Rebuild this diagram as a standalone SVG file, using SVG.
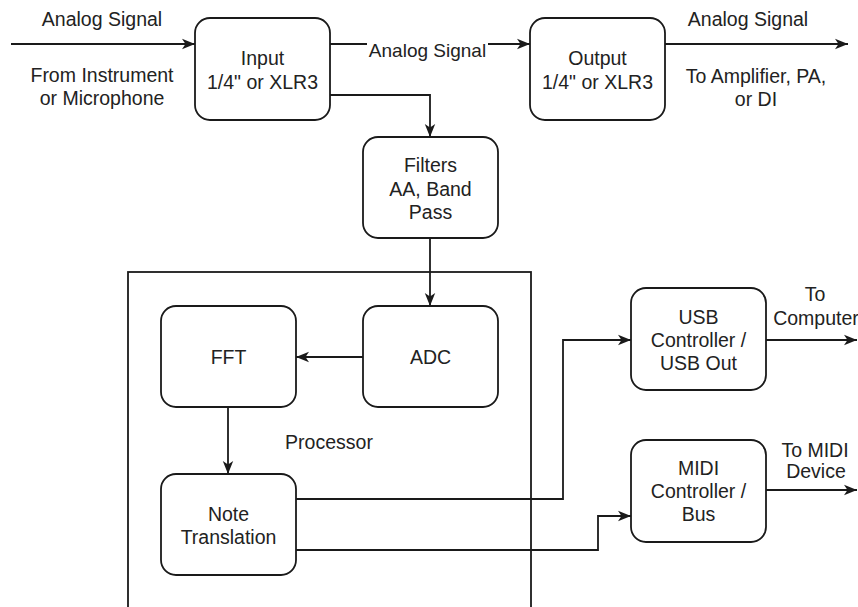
<svg xmlns="http://www.w3.org/2000/svg" width="858" height="607" viewBox="0 0 858 607">
  <style>
    .box { fill: #ffffff; stroke: #1a1a1a; stroke-width: 1.8; }
    .frame { fill: none; stroke: #1a1a1a; stroke-width: 1.8; }
    .wire { fill: none; stroke: #1a1a1a; stroke-width: 1.8; marker-end: url(#arrow); }
    text { font-family: "Liberation Sans", Arial, sans-serif; font-size: 19.5px; fill: #222222; text-anchor: middle; }
    .lbl { font-size: 19px; }
  </style>
  <defs>
    <marker id="arrow" markerUnits="userSpaceOnUse" markerWidth="14" markerHeight="12" viewBox="0 0 14 12" refX="13" refY="6" orient="auto">
      <path d="M0,0.8 L13,6 L0,11.2 L3.5,6 Z" fill="#1a1a1a"/>
    </marker>
  </defs>

  <!-- processor enclosure -->
  <g id="processor">
    <rect class="frame" x="128" y="272" width="403" height="400"/>
    <text x="329" y="449">Processor</text>
  </g>

  <!-- connectors -->
  <g id="connectors">
    <path class="wire" d="M11,44 H195"/>
    <path class="wire" d="M330,44 H530"/>
    <path class="wire" d="M665,44 H848"/>
    <path class="wire" d="M330,95 H430 V137"/>
    <path class="wire" d="M430,238 V306"/>
    <path class="wire" d="M363,357 H296"/>
    <path class="wire" d="M228,407 V474"/>
    <path class="wire" d="M296,499 H563 V340 H631"/>
    <path class="wire" d="M296,550 H598 V516 H631"/>
    <path class="wire" d="M766,340 H857"/>
    <path class="wire" d="M766,490 H857"/>
    <!-- label on the input-to-output link -->
    <rect x="367" y="40" width="121" height="24" fill="#ffffff"/>
    <text class="lbl" x="427.5" y="57">Analog Signal</text>
  </g>

  <!-- free labels -->
  <g id="labels">
    <text x="102" y="26">Analog Signal</text>
    <text x="102" y="82">From Instrument</text>
    <text x="102" y="105">or Microphone</text>
    <text x="748" y="26">Analog Signal</text>
    <text x="756" y="83">To Amplifier, PA,</text>
    <text x="756" y="106">or DI</text>
    <text x="815" y="301">To</text>
    <text x="816" y="325">Computer</text>
    <text x="815" y="457">To MIDI</text>
    <text x="816" y="478">Device</text>
  </g>

  <g id="input">
    <rect class="box" x="195" y="18" width="135" height="102" rx="15"/>
    <text x="262.5" y="65">Input</text>
    <text x="262.5" y="89">1/4" or XLR3</text>
  </g>

  <g id="output">
    <rect class="box" x="530" y="18" width="135" height="102" rx="15"/>
    <text x="597.5" y="65">Output</text>
    <text x="597.5" y="89">1/4" or XLR3</text>
  </g>

  <g id="filters">
    <rect class="box" x="363" y="137" width="135" height="101" rx="15"/>
    <text x="430.5" y="172">Filters</text>
    <text x="430.5" y="196">AA, Band</text>
    <text x="430.5" y="219">Pass</text>
  </g>

  <g id="adc">
    <rect class="box" x="363" y="306" width="135" height="101" rx="15"/>
    <text x="430.5" y="364">ADC</text>
  </g>

  <g id="fft">
    <rect class="box" x="161" y="306" width="135" height="101" rx="15"/>
    <text x="228.5" y="364">FFT</text>
  </g>

  <g id="note-translation">
    <rect class="box" x="161" y="474" width="135" height="101" rx="15"/>
    <text x="228.5" y="521">Note</text>
    <text x="228.5" y="544">Translation</text>
  </g>

  <g id="usb">
    <rect class="box" x="631" y="288" width="135" height="102" rx="15"/>
    <text x="698.5" y="324">USB</text>
    <text x="698.5" y="347">Controller /</text>
    <text x="698.5" y="370">USB Out</text>
  </g>

  <g id="midi">
    <rect class="box" x="631" y="440" width="135" height="102" rx="15"/>
    <text x="698.5" y="475">MIDI</text>
    <text x="698.5" y="498">Controller /</text>
    <text x="698.5" y="521">Bus</text>
  </g>
</svg>
